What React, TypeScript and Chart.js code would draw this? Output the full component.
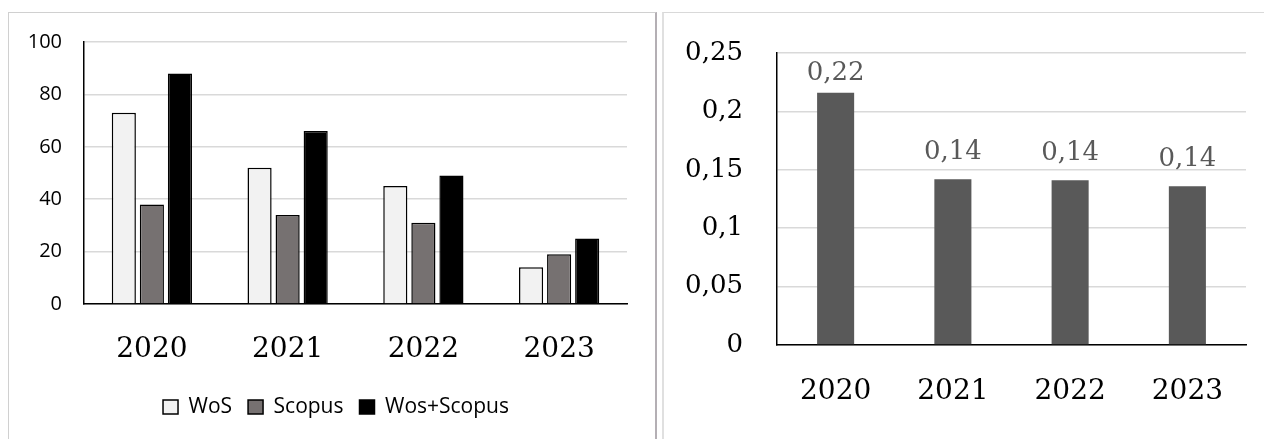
import React, { useEffect, useRef } from 'react';
import { Chart, registerables } from 'chart.js';

Chart.register(...registerables);

// ---- data ----
const years = ['2020', '2021', '2022', '2023'];
const wosValues = [73, 52, 45, 14];
const scopusValues = [38, 34, 31, 19];
const wosScopusValues = [88, 66, 49, 25];
const leftMax = 100;
const leftStep = 20;
const ratioValues = [0.216, 0.142, 0.141, 0.136];
const rightMax = 0.25;
const rightStep = 0.05;

const SERIF = "'DejaVu Serif', serif";
const SANS = "'Open Sans', sans-serif";

const fmtComma = (v: number, digits?: number) => {
  if (v === 0) return '0';
  const s = digits !== undefined ? v.toFixed(digits) : String(+v.toFixed(2));
  return s.replace('.', ',');
};

const valueLabelPlugin = {
  id: 'valueLabels',
  afterDatasetsDraw(chart: any) {
    const { ctx, chartArea } = chart;
    const meta = chart.getDatasetMeta(0);
    const data = chart.data.datasets[0].data as number[];
    ctx.save();
    ctx.font = `26px ${SERIF}`;
    ctx.fillStyle = '#595959';
    ctx.textAlign = 'center';
    ctx.textBaseline = 'alphabetic';
    meta.data.forEach((bar: any, i: number) => {
      const y = Math.max(bar.y - 20, chartArea.top + 27);
      ctx.fillText(fmtComma(data[i], 2), bar.x, y);
    });
    ctx.restore();
  },
};

// shifts the legend box sideways so that it is centred like the original
const legendShiftPlugin = {
  id: 'legendShift',
  afterLayout(chart: any) {
    const lg = chart.legend;
    if (lg) {
      lg.left += 18;
      lg.right += 18;
    }
  },
};

function LeftChart() {
  const ref = useRef<HTMLCanvasElement>(null);
  useEffect(() => {
    const chart = new Chart(ref.current as HTMLCanvasElement, {
      type: 'bar',
      data: {
        labels: years,
        datasets: [
          { label: 'WoS', data: wosValues, backgroundColor: '#f2f2f2', borderColor: '#000', borderWidth: 1.5 },
          { label: 'Scopus', data: scopusValues, backgroundColor: '#767171', borderColor: '#000', borderWidth: 1.5 },
          { label: 'Wos+Scopus', data: wosScopusValues, backgroundColor: '#000', borderColor: '#000', borderWidth: 1.5 },
        ],
      },
      options: {
        responsive: false,
        animation: false,
        devicePixelRatio: 1,
        layout: { padding: { top: 29, right: 22, left: 0, bottom: 11.5 } },
        datasets: { bar: { categoryPercentage: 0.62, barPercentage: 0.86 } },
        plugins: {
          legend: {
            position: 'bottom',
            labels: {
              font: { family: SANS, size: 21 },
              color: '#000',
              boxWidth: 15,
              boxHeight: 14,
              padding: 16,
            },
          },
          tooltip: { enabled: false },
        },
        scales: {
          x: {
            grid: { display: false, drawTicks: false },
            border: { color: '#000', width: 1.5 },
            ticks: { font: { family: SERIF, size: 28 }, color: '#000', padding: 29 },
            afterFit: (s: any) => { s.height = 76.5; },
          },
          y: {
            min: 0,
            max: leftMax,
            ticks: { stepSize: leftStep, font: { family: SANS, size: 20 }, color: '#000', padding: 0 },
            grid: { color: '#d9d9d9', lineWidth: 1.5, drawTicks: true, tickLength: 22, tickColor: 'rgba(0,0,0,0)' },
            border: { color: '#000', width: 1.5 },
            afterFit: (s: any) => { s.width = 75; },
          },
        },
      } as any,
      plugins: [legendShiftPlugin],
    });
    return () => chart.destroy();
  }, []);
  return <canvas ref={ref} width={640} height={426} style={{ position: 'absolute', left: 0, top: 0 }} />;
}

function RightChart() {
  const ref = useRef<HTMLCanvasElement>(null);
  useEffect(() => {
    const chart = new Chart(ref.current as HTMLCanvasElement, {
      type: 'bar',
      data: {
        labels: years,
        datasets: [
          { label: 'ratio', data: ratioValues, backgroundColor: '#595959', borderWidth: 0 },
        ],
      },
      options: {
        responsive: false,
        animation: false,
        devicePixelRatio: 1,
        layout: { padding: { top: 40, right: 18, left: 0, bottom: 0 } },
        datasets: { bar: { categoryPercentage: 1, barPercentage: 0.316 } },
        plugins: { legend: { display: false }, tooltip: { enabled: false } },
        scales: {
          x: {
            grid: { display: false, drawTicks: false },
            border: { color: '#000', width: 1.5 },
            ticks: { font: { family: SERIF, size: 28 }, color: '#000', padding: 30 },
            afterFit: (s: any) => { s.height = 94; },
          },
          y: {
            min: 0,
            max: rightMax,
            ticks: {
              stepSize: rightStep,
              font: { family: SERIF, size: 26 },
              color: '#000',
              padding: 0,
              callback: (v: any) => fmtComma(Number(v)),
            },
            grid: { color: '#d9d9d9', lineWidth: 1.5, drawTicks: true, tickLength: 34, tickColor: 'rgba(0,0,0,0)' },
            border: { color: '#000', width: 1.5 },
            afterFit: (s: any) => { s.width = 113; },
          },
        },
      } as any,
      plugins: [valueLabelPlugin],
    });
    return () => chart.destroy();
  }, []);
  return <canvas ref={ref} width={600} height={426} style={{ position: 'absolute', left: 0, top: 0 }} />;
}

export default function App() {
  return (
    <div style={{ position: 'fixed', left: 0, top: 0, width: 1264, height: 439, overflow: 'hidden', background: '#fff' }}>
      <div
        style={{
          position: 'absolute', left: 8, top: 12, width: 646, height: 440,
          borderLeft: '1px solid #d0d0d0', borderTop: '1px solid #d0d0d0', borderRight: '2px solid #b4afb4',
          overflow: 'hidden',
        }}
      >
        <LeftChart />
      </div>
      <div
        style={{
          position: 'absolute', left: 662, top: 12, width: 620, height: 440,
          borderLeft: '2px solid #e0e0e0', borderTop: '1px solid #d9d9d9',
          overflow: 'hidden',
        }}
      >
        <RightChart />
      </div>
    </div>
  );
}
